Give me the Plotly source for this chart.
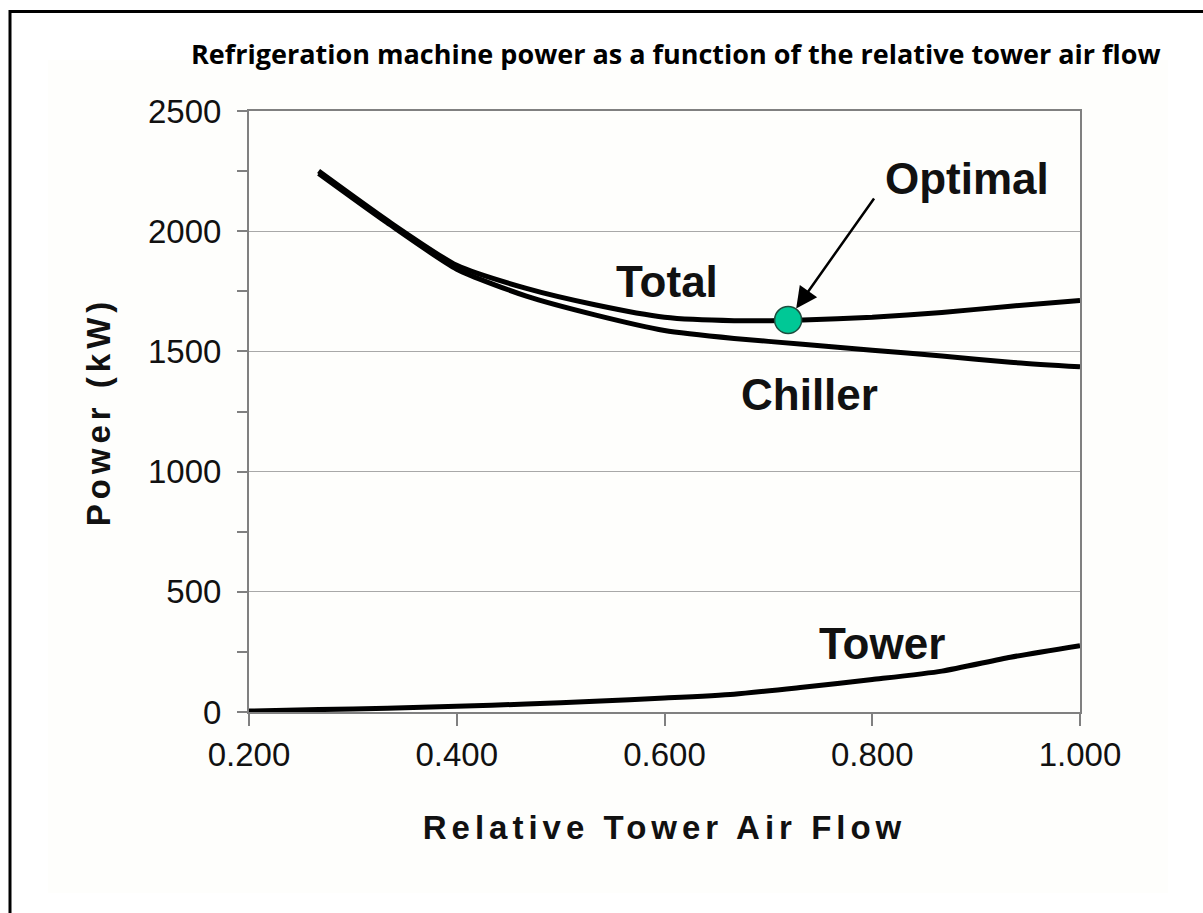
import plotly.graph_objects as go

# ---- data ----
flow = [0.2, 0.267, 0.333, 0.4, 0.467, 0.533, 0.6, 0.667, 0.733, 0.8, 0.867, 0.933, 1.0]
tower_kw = [4, 10, 16, 24, 33, 45, 58, 74, 103, 135, 170, 228, 276]
chiller_flow = flow[1:]
chiller_kw = [2240, 2035, 1842, 1730, 1652, 1587, 1554, 1530, 1505, 1481, 1455, 1436]
total_kw = [2250, 2045, 1858, 1762, 1694, 1642, 1628, 1631, 1642, 1662, 1688, 1712]
optimal_flow = [0.719]
optimal_kw = [1631]

x_ticks = [0.2, 0.4, 0.6, 0.8, 1.0]
y_ticks = [0, 500, 1000, 1500, 2000, 2500]

W, H = 1203, 913
L, R, T, B = 249, 1080, 111, 712

def px(xp):
    return (xp - L) / (R - L)

def py(yp):
    return (B - yp) / (B - T)

fig = go.Figure()
line_style = dict(color="black", width=5, shape="spline", smoothing=0.6)
fig.add_trace(go.Scatter(x=flow, y=tower_kw, mode="lines", line=line_style, name="Tower", showlegend=False))
fig.add_trace(go.Scatter(x=chiller_flow, y=chiller_kw, mode="lines", line=line_style, name="Chiller", showlegend=False))
fig.add_trace(go.Scatter(x=chiller_flow, y=total_kw, mode="lines", line=line_style, name="Total", showlegend=False))
fig.add_trace(go.Scatter(x=optimal_flow, y=optimal_kw, mode="markers",
                         marker=dict(size=27, color="#00c896", line=dict(color="#1e4d3e", width=1.5)),
                         name="Optimal", showlegend=False))

tick_font = dict(family="Liberation Sans, Arial, sans-serif", size=33, color="#111111")
title_font = dict(family="Liberation Sans, Arial, sans-serif", size=33, color="#111111", weight="bold")
label_font = dict(family="Liberation Sans, Arial, sans-serif", size=44, color="#111111", weight="bold")

fig.update_xaxes(range=[0.2, 1.0], tickvals=x_ticks, tickformat=".3f", ticks="outside", ticklen=12,
                 tickcolor="#808080", tickwidth=2, showline=True, linecolor="#808080", linewidth=2,
                 mirror=True, showgrid=False, zeroline=False, tickfont=tick_font,
                 title=dict(text="Relative Tower Air Flow", font=title_font, standoff=44))
fig.update_yaxes(range=[0, 2500], tickvals=y_ticks, ticks="outside", ticklen=10,
                 tickcolor="#808080", tickwidth=2, showline=True, linecolor="#808080", linewidth=2,
                 mirror=True, showgrid=True, gridcolor="#a8a8a8", gridwidth=1, zeroline=False,
                 tickfont=tick_font, ticklabelstandoff=9,
                 minor=dict(dtick=250, ticks="outside", ticklen=10, tickcolor="#808080", tickwidth=2, showgrid=False),
                 title=dict(text="Power (kW)", font=title_font, standoff=27))

annotations = [
    dict(x=0.891, y=2221, text="Optimal", showarrow=False, font=label_font),
    dict(x=0.602, y=1789, text="Total", showarrow=False, font=label_font),
    dict(x=0.740, y=1319, text="Chiller", showarrow=False, font=label_font),
    dict(x=0.809, y=287, text="Tower", showarrow=False, font=label_font),
    dict(x=optimal_flow[0], y=optimal_kw[0], text="", showarrow=True, arrowhead=2, arrowsize=1.7,
         arrowwidth=2.5, arrowcolor="black", ax=87, ay=-123, standoff=14),
    dict(xref="paper", yref="paper", x=(676 - L) / (R - L), y=py(53), xanchor="center", yanchor="middle",
         text="Refrigeration machine power as a function of the relative tower air flow",
         showarrow=False, font=dict(family="Open Sans, Noto Sans, sans-serif", size=27, color="black", weight="bold")),
]

shapes = [
    dict(type="rect", xref="paper", yref="paper", x0=px(48), x1=px(1168), y0=py(893), y1=py(60),
         fillcolor="#fefefc", line=dict(width=0), layer="below"),
    dict(type="rect", xref="paper", yref="paper", x0=px(10), x1=px(1215), y0=py(925), y1=py(11.5),
         fillcolor="rgba(0,0,0,0)", line=dict(color="black", width=3), layer="above"),
]

fig.update_layout(
    width=W, height=H,
    margin=dict(l=L, r=W - R, t=T, b=H - B, autoexpand=False),
    paper_bgcolor="white", plot_bgcolor="rgba(0,0,0,0)",
    annotations=annotations, shapes=shapes, showlegend=False,
)

post = """
document.body.style.margin='0';
document.querySelectorAll('.xtitle, .ytitle').forEach(function(e){ e.style.letterSpacing='5px'; });
"""
fig.write_html("out.html", post_script=post, config={"displayModeBar": False})
